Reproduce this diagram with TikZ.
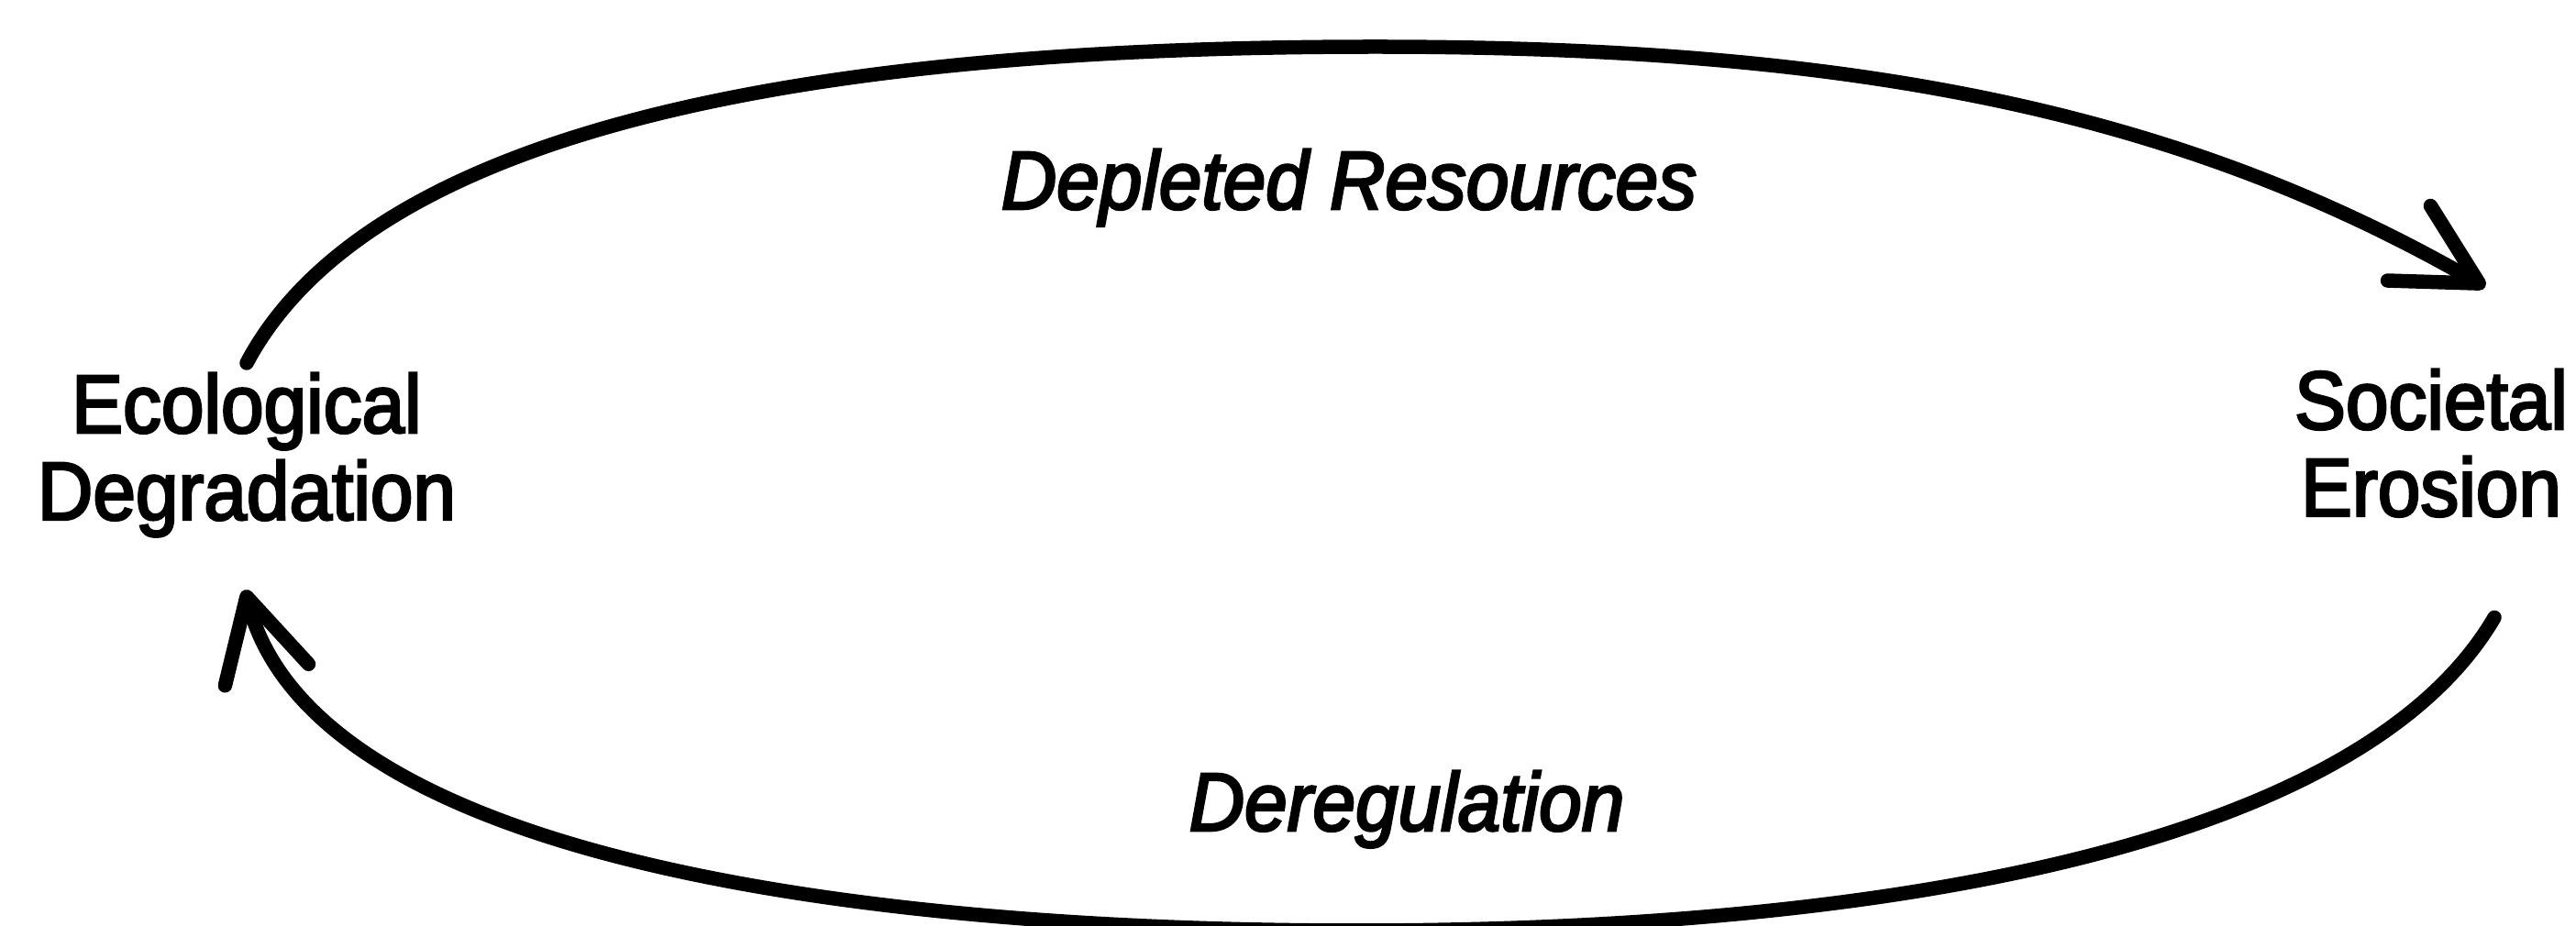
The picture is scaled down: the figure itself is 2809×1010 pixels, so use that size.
\documentclass[tikz,border=0pt]{standalone}
\usepackage{fontspec}
\setmainfont{Liberation Sans}[FakeStretch=0.93, FakeBold=3]
\usetikzlibrary{arrows.meta,calc}
\begin{document}
\begin{tikzpicture}[x=0.01cm,y=-0.01cm,
  cyclelabel/.style={font=\fontsize{25.6pt}{27pt}\selectfont, align=center, inner sep=0.1cm},
  flowlabel/.style={font=\fontsize{25.6pt}{27pt}\selectfont\itshape, anchor=base, inner sep=0pt},
  flow/.style={line width=0.155cm, line cap=round,
    -{Straight Barb[length=0.88cm,width=0.94cm,round]}}
]
\useasboundingbox (0,0) rectangle (2809,1010);

% the two states of the cycle
\node[cyclelabel, anchor=north] (eco) at (269,396) {Ecological\\Degradation};
\node[cyclelabel, anchor=north] (soc) at (2651,392) {Societal\\Erosion};

% labels of the two flows
\node[flowlabel] (depl) at (1471,228) {Depleted Resources};
\node[flowlabel] (dereg) at (1534,906) {Deregulation};

% upper arc: degradation leads to erosion
\draw[flow] (eco.north) .. controls (422,108) and (1000,51) .. (1500,51)
  .. controls (2000,51) and (2362,113) .. ($(soc.north)+(59,-79)$);

% lower arc: erosion feeds back into degradation
\draw[flow] ($(soc.south)+(69,99)$) .. controls (2570,930) and (2030,1015) .. (1480,1015)
  .. controls (930,1015) and (342,934) .. ($(eco.south)+(-2,47)$);
\end{tikzpicture}
\end{document}
